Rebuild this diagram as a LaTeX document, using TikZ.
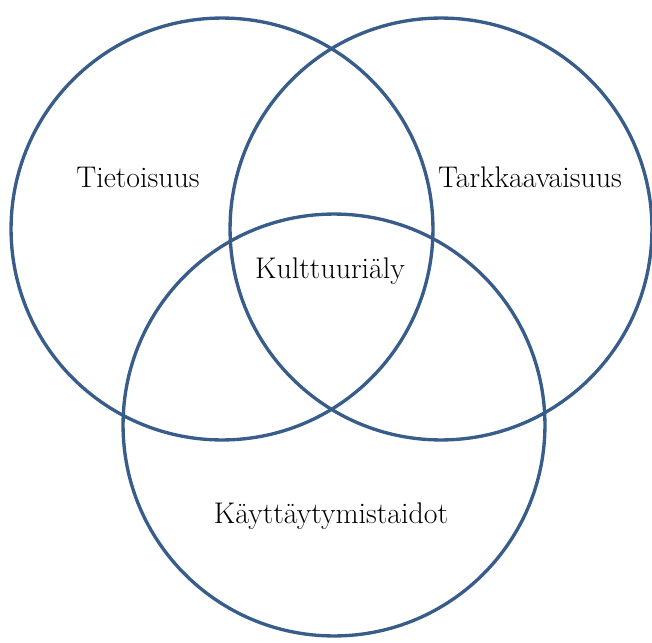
\documentclass[tikz,border=0pt]{standalone}
\usepackage{tikz}
\usetikzlibrary{positioning}

\definecolor{ringblue}{HTML}{385D8A}

\begin{document}
\begin{tikzpicture}[
  x=0.02cm, y=-0.02cm,
  ring/.style  = {draw=ringblue, circle, line width=1.9pt,
                  minimum size=8.44cm, inner sep=0pt},
  label/.style = {font=\fontsize{17}{20}\selectfont, inner sep=1pt},
]
\useasboundingbox (0,0) rectangle (652,642);

% ===== Circles =====
\node[ring] (tieto)  at (222,229) {};
\node[ring] (tarkka) at (441,229) {};
\node[ring] (kaytos) at (334,425) {};

% ===== Labels =====
\node[label] (ltieto)  at (138,177) {Tietoisuus};
\node[label] (ltarkka) at (530,177) {Tarkkaavaisuus};
\node[label] (lkult)   at (330,271) {Kulttuuriäly};
\node[label] (lkaytos) at (331,516) {Käyttäytymistaidot};

\end{tikzpicture}
\end{document}
